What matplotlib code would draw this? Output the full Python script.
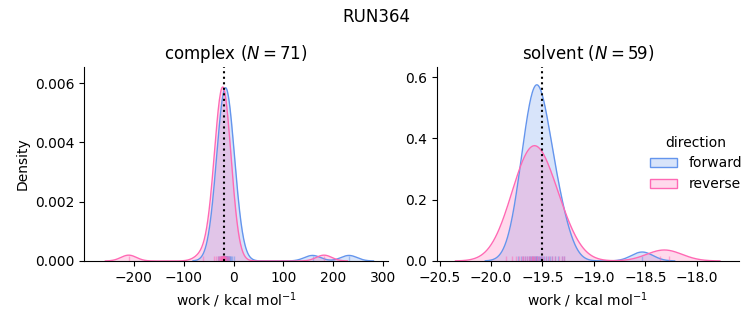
import numpy as np
import matplotlib.pyplot as plt
import matplotlib.transforms as mtransforms
from matplotlib.colors import to_rgb
from matplotlib.patches import Patch

complex_forward = [-32.1, -28.4, -26.0, -24.7, -23.5, -22.6, -21.8, -21.0, -20.3,
                   -19.7, -19.1, -18.6, -18.0, -17.5, -17.1, -16.6, -16.2, -15.7,
                   -15.2, -14.8, -14.3, -13.7, -13.1, -12.4, -11.8, -11.0, -10.1,
                   -9.2, -8.0, -6.6, -4.9, -2.8, 0.4, -15.9, 158.5, 231.7]
complex_reverse = [-62.0, -38.5, -35.2, -31.4, -29.6, -28.1, -27.0, -26.1, -25.3,
                   -24.6, -24.0, -23.4, -22.9, -22.4, -21.9, -21.5, -21.1, -20.7,
                   -20.3, -19.9, -19.5, -19.1, -18.7, -18.2, -17.6, -16.9, -16.1,
                   -15.0, -13.6, -11.9, -9.5, -20.1, -22.1, -210.4, 181.6]
solvent_forward = [-19.74, -19.71, -19.69, -19.67, -19.65, -19.63, -19.62, -19.60,
                   -19.59, -19.58, -19.57, -19.56, -19.55, -19.54, -19.53, -19.52,
                   -19.51, -19.50, -19.48, -19.47, -19.45, -19.43, -19.41, -19.38,
                   -19.35, -19.31, -19.29, -19.61, -19.56, -18.53]
solvent_reverse = [-19.85, -19.80, -19.76, -19.73, -19.70, -19.69, -19.67, -19.65,
                   -19.63, -19.62, -19.60, -19.60, -19.59, -19.58, -19.57, -19.55,
                   -19.55, -19.53, -19.51, -19.49, -19.47, -19.44, -19.41, -19.38,
                   -19.34, -19.31, -19.29, -18.36, -18.27]

phases = ['complex', 'solvent']
n_cycles = [71, 59]
estimates = [-19.6, -19.5]
bandwidths = {('complex', 'forward'): 16.4, ('complex', 'reverse'): 15.6,
              ('solvent', 'forward'): 0.105, ('solvent', 'reverse'): 0.165}
colors = {'forward': 'cornflowerblue', 'reverse': 'hotpink'}

data = {
    'complex': {'forward': complex_forward, 'reverse': complex_reverse},
    'solvent': {'forward': solvent_forward, 'reverse': solvent_reverse},
}
n_total = sum(len(v) for d in data.values() for v in d.values())


def kde(values, bw, grid):
    values = np.asarray(values)
    z = (grid[:, None] - values[None, :]) / bw
    # normalised over all groups, like a common norm
    return np.exp(-0.5 * z**2).sum(axis=1) / (bw * np.sqrt(2 * np.pi) * n_total)


fig = plt.figure(figsize=(7.53, 3.25), dpi=100)
axes = [fig.add_axes([0.1116, 0.197, 0.4037, 0.597]),
        fig.add_axes([0.5803, 0.197, 0.401, 0.597])]
xlims = [(-300, 310), (-20.525, -17.59)]
ylims = [(0, 0.00655), (0, 0.633)]

for ax, phase, n, est, xl, yl in zip(axes, phases, n_cycles, estimates, xlims, ylims):
    trans = mtransforms.blended_transform_factory(ax.transData, ax.transAxes)
    for direction in ['forward', 'reverse']:
        vals = data[phase][direction]
        bw = bandwidths[(phase, direction)]
        grid = np.linspace(min(vals) - 3 * bw, max(vals) + 3 * bw, 400)
        dens = kde(vals, bw, grid)
        c = colors[direction]
        ax.fill_between(grid, dens, color=c, alpha=0.25, lw=0)
        ax.plot(grid, dens, color=c, lw=1)
        ax.vlines(vals, 0, 0.025, transform=trans, color=c, lw=1, alpha=0.5)
    ax.axvline(est, color='black', ls=':', lw=1.5)
    ax.set_xlim(*xl)
    ax.set_ylim(*yl)
    ax.set_title(f'{phase} ($N = {n}$)')
    ax.set_xlabel('work / kcal mol$^{-1}$')
    ax.spines['top'].set_visible(False)
    ax.spines['right'].set_visible(False)

axes[0].set_ylabel('Density')
axes[0].set_xticks([-200, -100, 0, 100, 200, 300])
axes[0].set_yticks([0, 0.002, 0.004, 0.006])
axes[0].yaxis.set_major_formatter(plt.FormatStrFormatter('%.3f'))
axes[1].set_xticks([-20.5, -20.0, -19.5, -19.0, -18.5, -18.0])
axes[1].set_yticks([0, 0.2, 0.4, 0.6])

handles = [Patch(facecolor=(*to_rgb(colors[d]), 0.25), edgecolor=colors[d], label=d)
           for d in ['forward', 'reverse']]
fig.legend(handles=handles, title='direction', loc='center left',
           bbox_to_anchor=(0.846, 0.497), frameon=False)

fig.suptitle('RUN364', fontsize=12, y=0.975)
fig.savefig('out.png', dpi=100)
